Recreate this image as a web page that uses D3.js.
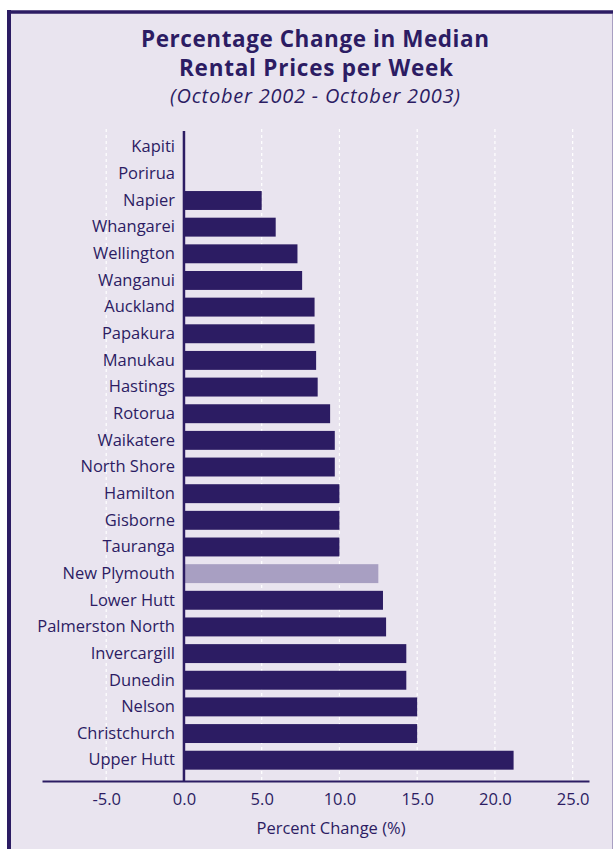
<!DOCTYPE html>
<html>
<head>
<meta charset="utf-8">
<script src="https://cdn.jsdelivr.net/npm/d3@7"></script>
<style>
  html, body { margin: 0; padding: 0; background: #ffffff; }
  svg { display: block; }
  text { font-family: "Open Sans", Lato, sans-serif; fill: #2c1c63; }
</style>
</head>
<body>
<svg id="chart" width="613" height="849"></svg>
<script>
// Regions, top to bottom
const regions = [
  "Kapiti", "Porirua", "Napier", "Whangarei", "Wellington", "Wanganui",
  "Auckland", "Papakura", "Manukau", "Hastings", "Rotorua", "Waikatere",
  "North Shore", "Hamilton", "Gisborne", "Tauranga", "New Plymouth",
  "Lower Hutt", "Palmerston North", "Invercargill", "Dunedin", "Nelson",
  "Christchurch", "Upper Hutt"
];
// Percentage change in weekly median rent, Oct 2002 - Oct 2003
const changes = [
  0, 0, 5.0, 5.9, 7.3, 7.6,
  8.4, 8.4, 8.5, 8.6, 9.4, 9.7,
  9.7, 10.0, 10.0, 10.0, 12.5,
  12.8, 13.0, 14.3, 14.3, 15.0,
  15.0, 21.2
];
const highlighted = ["New Plymouth"];
const tickValues = [-5, 0, 5, 10, 15, 20, 25];

const titleLines = ["Percentage Change in Median", "Rental Prices per Week"];
const subtitle = "(October 2002 - October 2003)";
const axisTitle = "Percent Change (%)";

const dark = "#2c1c63";
const light = "#a89fc2";
const panelFill = "#e9e4ef";
const font = "'Open Sans', Lato, sans-serif";

const svg = d3.select("#chart");

// Panel with heavy top and left rules
svg.append("rect").attr("x", 9).attr("y", 12).attr("width", 604).attr("height", 837)
  .attr("fill", panelFill);
svg.append("line").attr("x1", 7).attr("x2", 613).attr("y1", 12).attr("y2", 12)
  .attr("stroke", dark).attr("stroke-width", 3.5);
svg.append("line").attr("x1", 9).attr("x2", 9).attr("y1", 10).attr("y2", 849)
  .attr("stroke", dark).attr("stroke-width", 4);
svg.append("line").attr("x1", 612.5).attr("x2", 612.5).attr("y1", 14).attr("y2", 849)
  .attr("stroke", light).attr("stroke-width", 1);

// Titles
const cx = 315;
svg.append("text").attr("x", cx).attr("y", 47).attr("text-anchor", "middle")
  .attr("font-size", 22.5).attr("font-weight", 700)
  .attr("textLength", 348).attr("lengthAdjust", "spacing").text(titleLines[0]);
svg.append("text").attr("x", cx + 1).attr("y", 76).attr("text-anchor", "middle")
  .attr("font-size", 22.5).attr("font-weight", 700)
  .attr("textLength", 274).attr("lengthAdjust", "spacing").text(titleLines[1]);
svg.append("text").attr("x", cx).attr("y", 103).attr("text-anchor", "middle")
  .attr("font-size", 20).attr("font-style", "italic")
  .attr("textLength", 290).attr("lengthAdjust", "spacing").text(subtitle);

// Scales
const x = d3.scaleLinear().domain([-9.13, 26.05]).range([42, 589]);
const y = d3.scaleBand().domain(regions).range([132.4, 775])
  .paddingInner(0.29).paddingOuter(0.2);

const plotTop = 129, plotBottom = 781;

// Dashed gridlines
svg.append("g").selectAll("line")
  .data(tickValues.filter(v => v !== 0))
  .join("line")
  .attr("x1", d => x(d)).attr("x2", d => x(d))
  .attr("y1", plotTop).attr("y2", plotBottom)
  .attr("stroke", "#ffffff").attr("stroke-width", 1.2)
  .attr("stroke-dasharray", "3,3");

// Bars
svg.append("g").selectAll("rect")
  .data(regions.map((r, i) => ({ region: r, value: changes[i] })))
  .join("rect")
  .attr("x", d => x(Math.min(0, d.value)))
  .attr("y", d => y(d.region))
  .attr("width", d => Math.abs(x(d.value) - x(0)))
  .attr("height", y.bandwidth())
  .attr("fill", d => highlighted.includes(d.region) ? light : dark);

// Zero line
svg.append("line").attr("x1", x(0)).attr("x2", x(0))
  .attr("y1", 131).attr("y2", plotBottom)
  .attr("stroke", dark).attr("stroke-width", 2.5);

// Category labels
const yAxis = d3.axisLeft(y).tickSize(0).tickPadding(0);
const yg = svg.append("g").attr("transform", `translate(${x(0) - 9},0)`).call(yAxis);
yg.select(".domain").remove();
yg.selectAll("text").attr("font-size", 16.5).attr("fill", dark)
  .style("font-family", font);

// Horizontal axis
const fmt = d3.format(".1f");
const xAxis = d3.axisBottom(x).tickValues(tickValues).tickSize(0).tickPadding(12)
  .tickFormat(d => fmt(d).replace("\u2212", "-"));
const xg = svg.append("g").attr("transform", `translate(0,${plotBottom})`).call(xAxis);
xg.select(".domain").attr("stroke", dark).attr("stroke-width", 2.2);
xg.selectAll("text").attr("font-size", 16.5).attr("fill", dark)
  .style("font-family", font);

svg.append("text").attr("x", 331).attr("y", 834).attr("text-anchor", "middle")
  .attr("font-size", 16.5).text(axisTitle);
</script>
</body>
</html>
